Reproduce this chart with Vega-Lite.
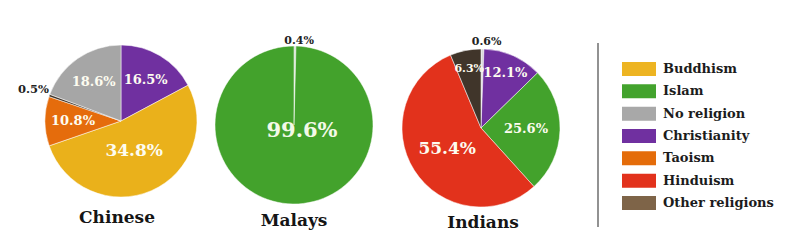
{
  "$schema": "https://vega.github.io/schema/vega-lite/v6.json",
  "autosize": {"type": "pad"},
  "padding": {"left": 17, "top": 0, "right": 0, "bottom": 0},
  "background": "white",
  "spacing": 37,
  "bounds": "flush",
  "config": {"view": {"stroke": null}},
  "resolve": {"scale": {"color": "independent"}},
  "datasets": {
    "rel": [
      {"group": "Chinese", "religion": "Christianity", "value": 17.2, "label": "16.5%", "k": 1},
      {"group": "Chinese", "religion": "Buddhism", "value": 52.5, "label": "34.8%", "k": 2},
      {"group": "Chinese", "religion": "Taoism", "value": 10.5, "label": "10.8%", "k": 3},
      {"group": "Chinese", "religion": "Other religions", "value": 0.5, "label": "0.5%", "k": 4},
      {"group": "Chinese", "religion": "No religion", "value": 19.3, "label": "18.6%", "k": 5},
      {"group": "Malays", "religion": "No religion", "value": 0.4, "label": "0.4%", "k": 1},
      {"group": "Malays", "religion": "Islam", "value": 99.6, "label": "99.6%", "k": 2},
      {"group": "Indians", "religion": "No religion", "value": 0.6, "label": "0.6%", "k": 1},
      {"group": "Indians", "religion": "Christianity", "value": 12.1, "label": "12.1%", "k": 2},
      {"group": "Indians", "religion": "Islam", "value": 25.6, "label": "25.6%", "k": 3},
      {"group": "Indians", "religion": "Hinduism", "value": 55.4, "label": "55.4%", "k": 4},
      {"group": "Indians", "religion": "Other religions", "value": 6.3, "label": "6.3%", "k": 5}
    ],
    "legend": [
      {"religion": "Buddhism"},
      {"religion": "Islam"},
      {"religion": "No religion"},
      {"religion": "Christianity"},
      {"religion": "Taoism"},
      {"religion": "Hinduism"},
      {"religion": "Other religions"}
    ]
  },
  "hconcat": [
    {
      "width": 132,
      "height": 242,
      "data": {"name": "rel"},
      "transform": [{"filter": "datum.group === 'Chinese'"}],
      "title": {"text": "Chinese", "orient": "bottom", "offset": -19, "baseline": "alphabetic", "dx": -4, "font": "DejaVu Serif", "fontSize": 17, "fontWeight": "bold", "color": "#151515"},
      "encoding": {
        "theta": {"field": "value", "type": "quantitative", "stack": true},
        "order": {"field": "k", "type": "quantitative"},
        "color": {"field": "religion", "type": "nominal", "legend": null,
          "scale": {"domain": ["Buddhism", "Islam", "No religion", "Christianity", "Taoism", "Hinduism", "Other religions"],
                    "range": ["#EAB11B", "#43A22C", "#A6A6A6", "#7030A0", "#E56C0C", "#E2321C", "#40352A"]}}
      },
      "layer": [
        {"mark": {"type": "arc", "outerRadius": 76, "stroke": "white", "strokeWidth": 0.5}},
        {"mark": {"type": "text", "radius": 33, "font": "DejaVu Serif", "fontWeight": "bold"},
         "encoding": {"text": {"condition": {"test": "datum.value >= 30", "field": "label", "type": "nominal"}, "value": ""},
                      "size": {"value": 17}, "color": {"value": "#fdfcf0"}}},
        {"mark": {"type": "text", "radius": 48, "font": "DejaVu Serif", "fontWeight": "bold"},
         "encoding": {"text": {"condition": {"test": "datum.value >= 1 && datum.value < 30", "field": "label", "type": "nominal"}, "value": ""},
                      "size": {"value": 13}, "color": {"value": "#fdfcf0"}}},
        {"mark": {"type": "text", "radius": 93, "font": "DejaVu Serif", "fontWeight": "bold"},
         "encoding": {"text": {"condition": {"test": "datum.value < 1", "field": "label", "type": "nominal"}, "value": ""},
                      "size": {"value": 11.5}, "color": {"value": "#222222"}}}
      ]
    },
    {
      "width": 140,
      "height": 250,
      "data": {"name": "rel"},
      "transform": [{"filter": "datum.group === 'Malays'"}],
      "title": {"text": "Malays", "orient": "bottom", "offset": -24, "baseline": "alphabetic", "font": "DejaVu Serif", "fontSize": 17, "fontWeight": "bold", "color": "#151515"},
      "encoding": {
        "theta": {"field": "value", "type": "quantitative", "stack": true},
        "order": {"field": "k", "type": "quantitative"},
        "color": {"field": "religion", "type": "nominal", "legend": null,
          "scale": {"domain": ["Buddhism", "Islam", "No religion", "Christianity", "Taoism", "Hinduism", "Other religions"],
                    "range": ["#EAB11B", "#43A22C", "#C9D9C2", "#7030A0", "#E56C0C", "#E2321C", "#40352A"]}}
      },
      "layer": [
        {"mark": {"type": "arc", "outerRadius": 79, "stroke": "white", "strokeWidth": 0.5}},
        {"mark": {"type": "text", "radius": 0, "dx": 8, "dy": 6, "font": "DejaVu Serif", "fontWeight": "bold"},
         "encoding": {"text": {"condition": {"test": "datum.value >= 30", "field": "label", "type": "nominal"}, "value": ""},
                      "size": {"value": 21}, "color": {"value": "#f3f9e8"}}},
        {"mark": {"type": "text", "radius": 84, "dx": 4, "font": "DejaVu Serif", "fontWeight": "bold"},
         "encoding": {"text": {"condition": {"test": "datum.value < 1", "field": "label", "type": "nominal"}, "value": ""},
                      "size": {"value": 11}, "color": {"value": "#222222"}}}
      ]
    },
    {
      "width": 160,
      "height": 256,
      "data": {"name": "rel"},
      "transform": [{"filter": "datum.group === 'Indians'"}],
      "title": {"text": "Indians", "orient": "bottom", "offset": -28, "baseline": "alphabetic", "dx": 2, "font": "DejaVu Serif", "fontSize": 17, "fontWeight": "bold", "color": "#151515"},
      "encoding": {
        "theta": {"field": "value", "type": "quantitative", "stack": true},
        "order": {"field": "k", "type": "quantitative"},
        "color": {"field": "religion", "type": "nominal", "legend": null,
          "scale": {"domain": ["Buddhism", "Islam", "No religion", "Christianity", "Taoism", "Hinduism", "Other religions"],
                    "range": ["#EAB11B", "#43A22C", "#D8D8D8", "#7030A0", "#E56C0C", "#E2321C", "#40352A"]}}
      },
      "layer": [
        {"mark": {"type": "arc", "outerRadius": 79, "stroke": "white", "strokeWidth": 0.5}},
        {"mark": {"type": "text", "radius": 40, "font": "DejaVu Serif", "fontWeight": "bold"},
         "encoding": {"text": {"condition": {"test": "datum.value >= 30", "field": "label", "type": "nominal"}, "value": ""},
                      "size": {"value": 17}, "color": {"value": "#fdfcf0"}}},
        {"mark": {"type": "text", "radius": 45, "font": "DejaVu Serif", "fontWeight": "bold"},
         "encoding": {"text": {"condition": {"test": "datum.value >= 20 && datum.value < 30", "field": "label", "type": "nominal"}, "value": ""},
                      "size": {"value": 13}, "color": {"value": "#fdfcf0"}}},
        {"mark": {"type": "text", "radius": 60, "font": "DejaVu Serif", "fontWeight": "bold"},
         "encoding": {"text": {"condition": {"test": "datum.value >= 1 && datum.value < 20", "field": "label", "type": "nominal"}, "value": ""},
                      "size": {"condition": {"test": "datum.value >= 10", "value": 13}, "value": 11}, "color": {"value": "#fdfcf0"}}},
        {"mark": {"type": "text", "radius": 86, "dx": 4, "font": "DejaVu Serif", "fontWeight": "bold"},
         "encoding": {"text": {"condition": {"test": "datum.value < 1", "field": "label", "type": "nominal"}, "value": ""},
                      "size": {"value": 11}, "color": {"value": "#222222"}}}
      ]
    },
    {
      "width": 180,
      "height": 252,
      "data": {"name": "legend"},
      "encoding": {
        "y": {"field": "religion", "type": "nominal", "axis": null,
              "scale": {"type": "point", "domain": ["Buddhism", "Islam", "No religion", "Christianity", "Taoism", "Hinduism", "Other religions"], "range": [69, 203], "padding": 0}}
      },
      "layer": [
        {"mark": {"type": "point", "shape": "M-1,-0.41H1V0.41H-1Z", "size": 1156, "filled": true, "opacity": 1},
         "encoding": {
           "x": {"datum": 41, "type": "quantitative", "scale": {"domain": [0, 180]}, "axis": null},
           "color": {"field": "religion", "type": "nominal", "legend": null,
             "scale": {"domain": ["Buddhism", "Islam", "No religion", "Christianity", "Taoism", "Hinduism", "Other religions"],
                       "range": ["#EDB422", "#43A32D", "#A8A8A8", "#7030A0", "#E46C0A", "#E2321C", "#7E6448"]}}
         }},
        {"mark": {"type": "text", "align": "left", "baseline": "middle", "font": "DejaVu Serif", "fontWeight": "bold", "fontSize": 13, "color": "#1c1c1c"},
         "encoding": {"x": {"datum": 65, "type": "quantitative"}, "text": {"field": "religion", "type": "nominal"}}},
        {"transform": [{"filter": "datum.religion === 'Buddhism'"}],
         "mark": {"type": "rule", "color": "#6e6e6e", "strokeWidth": 1.5, "yOffset": -26, "y2Offset": 24},
         "encoding": {"x": {"datum": 0, "type": "quantitative"}, "y": {"datum": "Buddhism", "type": "nominal"}, "y2": {"datum": "Other religions"}}}
      ]
    }
  ]
}
